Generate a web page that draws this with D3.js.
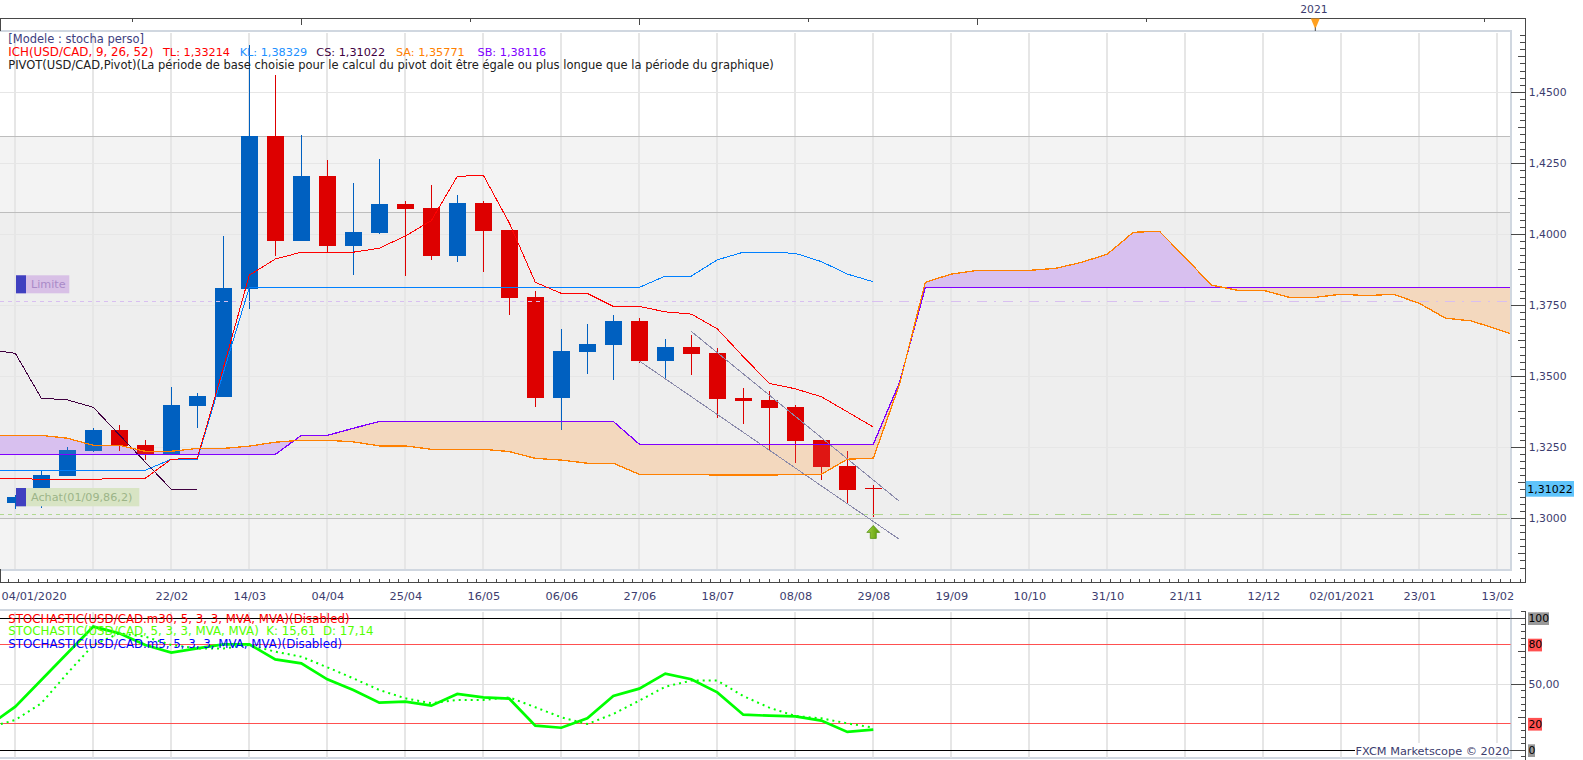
<!DOCTYPE html>
<html>
<head>
<meta charset="utf-8">
<script src="https://cdn.jsdelivr.net/npm/d3@7"></script>
<style>
  html, body { margin: 0; padding: 0; background: #fff; }
  svg { display: block; }
  text { font-family: "DejaVu Sans", sans-serif; font-size: 10.8px; white-space: pre; }
</style>
</head>
<body>
<div id="chart"></div>
<script>
// weekly candles, week 0 = first label
const opens  = [1.3054,1.3100,1.3149,1.3237,1.3311,1.3258,1.3226,1.3395,1.3427,1.3808,1.4346,1.3977,1.4205,1.3959,1.4005,1.4107,1.4093,1.3924,1.4110,1.4015,1.3779,1.3424,1.3586,1.3610,1.3695,1.3554,1.3603,1.3582,1.3424,1.3417,1.3392,1.3276,1.3184,1.3106];
const closes = [1.3075,1.3152,1.3240,1.3311,1.3256,1.3226,1.3399,1.3431,1.3811,1.4346,1.3977,1.4205,1.3959,1.4008,1.4107,1.4089,1.3924,1.4110,1.4012,1.3776,1.3424,1.3589,1.3614,1.3695,1.3554,1.3603,1.3579,1.3420,1.3413,1.3388,1.3272,1.3181,1.3100,1.31022];
const highs  = [1.3082,1.3168,1.3251,1.3318,1.3328,1.3276,1.3462,1.3441,1.3994,1.4667,1.4561,1.4350,1.4262,1.4181,1.4265,1.4117,1.4174,1.4138,1.4117,1.4015,1.3800,1.3667,1.3684,1.3716,1.3705,1.3631,1.3645,1.3600,1.3459,1.3448,1.3399,1.3276,1.3237,1.3117];
const lows   = [1.3033,1.3037,1.3149,1.3233,1.3237,1.3205,1.3226,1.3318,1.3427,1.3737,1.3924,1.3977,1.3938,1.3857,1.4001,1.3853,1.3910,1.3903,1.3867,1.3716,1.3392,1.3311,1.3508,1.3487,1.3547,1.3490,1.3505,1.3353,1.3332,1.3240,1.3195,1.3135,1.3050,1.3005];

// ichimoku, every list starts at week -1
const tenkan = [1.3141,1.3141,1.3137,1.3137,1.3137,1.3141,1.3141,1.3208,1.3211,1.3529,1.3856,1.3913,1.3937,1.3937,1.3937,1.3951,1.3994,1.4048,1.4204,1.4208,1.4040,1.3831,1.3792,1.3792,1.3746,1.3746,1.3727,1.3719,1.3667,1.3569,1.3475,1.3456,1.3428,1.3375,1.33214];
const kijun  = [1.3169,1.3169,1.3169,1.3169,1.3169,1.3169,1.3169,1.3208,1.3208,1.3512,1.3813,1.3813,1.3813,1.3813,1.3813,1.3813,1.3813,1.3813,1.3813,1.3813,1.3813,1.3813,1.3813,1.3813,1.3813,1.3813,1.3853,1.3853,1.3910,1.3937,1.3937,1.3933,1.3904,1.3860,1.38329];
const chikou = [1.3594,1.3581,1.3423,1.3417,1.3391,1.3294,1.3198,1.3102,1.31022];
const senkouA = [1.3292,1.3292,1.3292,1.3282,1.3257,1.3257,1.3236,1.3236,1.3246,1.3246,1.3254,1.3268,1.3275,1.3275,1.3269,1.3255,1.3255,1.3243,1.3243,1.3243,1.3235,1.3211,1.3205,1.3194,1.3194,1.3155,1.3155,1.3155,1.3152,1.3152,1.3152,1.3155,1.3155,1.3208,1.3212,1.3469,1.3831,1.3860,1.3873,1.3873,1.3873,1.3880,1.3901,1.3930,1.4007,1.4011,1.3918,1.3821,1.3803,1.3803,1.3778,1.3778,1.3789,1.3784,1.3789,1.3757,1.3705,1.3695,1.3666,1.3634];
const senkouB = [1.3225,1.3225,1.3225,1.3225,1.3225,1.3225,1.3225,1.3225,1.3225,1.3225,1.3225,1.3225,1.3292,1.3292,1.3317,1.3341,1.3341,1.3341,1.3341,1.3341,1.3341,1.3341,1.3341,1.3341,1.3341,1.3261,1.3261,1.3261,1.3261,1.3261,1.3261,1.3261,1.3261,1.3261,1.3261,1.3476,1.38116,1.38116,1.38116,1.38116,1.38116,1.38116,1.38116,1.38116,1.38116,1.38116,1.38116,1.38116,1.38116,1.38116,1.38116,1.38116,1.38116,1.38116,1.38116,1.38116,1.38116,1.38116,1.38116,1.38116];

// stochastic, from week -1
const stochK = [18.9,33.1,53.3,73.5,93.7,88.6,79.8,74.0,77.2,80.3,80.3,68.9,65.9,53.8,45.7,36.1,36.8,33.8,42.7,40.1,39.1,18.7,17.1,24.2,41.1,46.7,58.1,53.8,43.9,27.0,26.2,25.7,22.5,13.9,15.61];
const stochD = [17.4,23.0,35.6,58.3,79.8,88.6,86.1,79.8,77.2,77.2,79.8,74.7,70.9,62.9,54.5,45.7,39.4,35.6,38.1,38.1,40.1,32.6,25.0,19.9,27.5,37.6,48.2,52.8,52.8,41.1,32.3,26.0,24.2,20.4,17.14];

// channel lines [week, price]
const channelLow = [[24, 1.3554], [34, 1.2926]];
const channelHigh = [[26, 1.3658], [34, 1.3060]];

const pivotLevels = [1.4345, 1.4077, 1.3000];
const limitPrice = 1.3764;
const buyPrice = 1.3014;
const lastClose = 1.31022;
const arrowPrice = 1.2975;

const priceTicks = [1.45, 1.425, 1.40, 1.375, 1.35, 1.325, 1.30];
const weekTicks = [0,3,6,9,12,15,18,21,24,27,30,33,36,39,42,45,48,51,54,57];
const weekLabels = ['04/01/2020','','22/02','14/03','04/04','25/04','16/05','06/06','27/06','18/07','08/08','29/08','19/09','10/10','31/10','21/11','12/12','02/01/2021','23/01','13/02'];
const topTicks = [4.5,11,17.5,24,30.5,37,43.5,50,56.5];

const W = 1583, H = 760;
const right = 1510.6, axisX = 1525.3;
const topY0 = 31, topY1 = 569.5, axisY = 582.3, frameY = 18.5;
const lowY0 = 609.5, lowY1 = 757.5;

const x = d3.scaleLinear().domain([0, 57]).range([15.3, 1497.3]);
const y = d3.scaleLinear().domain([1.30, 1.45]).range([518.3, 92.3]);
const ys = d3.scaleLinear().domain([0, 100]).range([750.3, 618.3]);
const fmt = d => d3.format('.4f')(d).replace('.', ',');

const labelColor = '#3c3c6e', inkColor = '#484848', gridColor = '#e6e6e6';
const blue = '#0060c0', red = '#dd0000';

const svg = d3.select('#chart').append('svg').attr('width', W).attr('height', H);
const defs = svg.append('defs');
defs.append('clipPath').attr('id', 'plot').append('rect')
  .attr('x', 0).attr('y', topY0).attr('width', right).attr('height', topY1 - topY0);
defs.append('clipPath').attr('id', 'low').append('rect')
  .attr('x', 0).attr('y', lowY0).attr('width', right).attr('height', lowY1 - lowY0);
const arrowFill = defs.append('linearGradient').attr('id', 'arrowFill')
  .attr('x1', 0).attr('x2', 1).attr('y1', 0).attr('y2', 0);
arrowFill.append('stop').attr('offset', '0%').attr('stop-color', '#a0d040');
arrowFill.append('stop').attr('offset', '100%').attr('stop-color', '#5a9a08');

// pivot bands
svg.append('rect').attr('x', 0).attr('width', right)
  .attr('y', y(pivotLevels[0])).attr('height', y(pivotLevels[1]) - y(pivotLevels[0])).attr('fill', '#f3f3f3');
svg.append('rect').attr('x', 0).attr('width', right)
  .attr('y', y(pivotLevels[1])).attr('height', y(pivotLevels[2]) - y(pivotLevels[1])).attr('fill', '#eeeeee');
svg.append('rect').attr('x', 0).attr('width', right)
  .attr('y', y(pivotLevels[2])).attr('height', topY1 - y(pivotLevels[2])).attr('fill', '#f3f3f3');

// grid
const grid = svg.append('g').attr('shape-rendering', 'crispEdges');
grid.selectAll('.gx').data(weekTicks).join('line')
  .attr('x1', d => x(d)).attr('x2', d => x(d)).attr('y1', topY0 + 2).attr('y2', topY1)
  .attr('stroke', gridColor).attr('stroke-width', 2);
grid.selectAll('.gy').data(priceTicks).join('line')
  .attr('x1', 0).attr('x2', right).attr('y1', d => y(d)).attr('y2', d => y(d))
  .attr('stroke', gridColor).attr('stroke-width', 1.2);
grid.selectAll('.gp').data(pivotLevels).join('line')
  .attr('x1', 0).attr('x2', right).attr('y1', d => y(d)).attr('y2', d => y(d))
  .attr('stroke', '#bdbdbd').attr('stroke-width', 1.2);

const chart = svg.append('g').attr('clip-path', 'url(#plot)');

// cloud: purple above senkou B, peach below
const idx = senkouA.map((d, i) => i - 1);
const cloud = d3.area().x(i => x(i)).y0(i => y(senkouB[i + 1])).y1(i => y(senkouA[i + 1]));
const aboveB = d3.area().x(i => x(i)).y0(0).y1(i => y(senkouB[i + 1]));
const belowB = d3.area().x(i => x(i)).y0(H).y1(i => y(senkouB[i + 1]));
defs.append('clipPath').attr('id', 'aboveB').append('path').attr('d', aboveB(idx));
defs.append('clipPath').attr('id', 'belowB').append('path').attr('d', belowB(idx));
function drawCloud(opacity) {
  chart.append('path').attr('d', cloud(idx)).attr('clip-path', 'url(#aboveB)')
    .attr('fill', '#d8c0f0').attr('fill-opacity', opacity);
  chart.append('path').attr('d', cloud(idx)).attr('clip-path', 'url(#belowB)')
    .attr('fill', '#f3d8bf').attr('fill-opacity', opacity);
}
drawCloud(1);

// candles
const candles = chart.append('g').attr('shape-rendering', 'crispEdges');
opens.forEach((o, i) => {
  const c = closes[i], col = c >= o ? blue : red, px = Math.floor(x(i));
  candles.append('rect').attr('x', px).attr('width', 1)
    .attr('y', y(highs[i])).attr('height', y(lows[i]) - y(highs[i])).attr('fill', col);
  const t = y(Math.max(o, c)), b = y(Math.min(o, c));
  candles.append('rect').attr('x', px - 8).attr('width', 17)
    .attr('y', t).attr('height', Math.max(1, b - t)).attr('fill', col);
});
drawCloud(0.1);

// limit and buy levels
function levelLine(price, color) {
  chart.append('line').attr('x1', 0).attr('x2', x(33)).attr('y1', y(price)).attr('y2', y(price))
    .attr('stroke', color).attr('stroke-width', 1).attr('stroke-dasharray', '4,4').attr('shape-rendering', 'crispEdges');
  chart.append('line').attr('x1', x(33)).attr('x2', right).attr('y1', y(price)).attr('y2', y(price))
    .attr('stroke', color).attr('stroke-width', 1).attr('stroke-dasharray', '10,7,2,7').attr('shape-rendering', 'crispEdges');
}
levelLine(limitPrice, '#d8bff0');
levelLine(buyPrice, '#b0d890');

// indicator lines
const line = d3.line().x(d => x(d[0])).y(d => y(d[1]));
const withWeek = arr => arr.map((v, i) => [i - 1, v]);
function drawLine(data, color, width) {
  chart.append('path').attr('d', line(data)).attr('fill', 'none')
    .attr('stroke', color).attr('stroke-width', width).attr('shape-rendering', 'crispEdges');
}
drawLine(channelLow, '#8a8aaa', 1);
drawLine(channelHigh, '#8a8aaa', 1);
drawLine(withWeek(chikou), '#400040', 1);
drawLine(withWeek(kijun), '#0080ff', 1);
drawLine(withWeek(tenkan), '#ff0000', 1);
drawLine(withWeek(senkouB), '#8000ff', 1.3);
drawLine(withWeek(senkouA), '#ff8000', 1.3);

// buy arrow
chart.append('path')
  .attr('transform', `translate(${x(33)},${y(arrowPrice)})`)
  .attr('d', 'M0,0 L6.5,7 L3,7 L3,13 L-3,13 L-3,7 L-6.5,7 Z')
  .attr('fill', 'url(#arrowFill)').attr('stroke', '#4a8a08').attr('stroke-width', 0.7);

// order tags
function tag(x0, y0, w, h, txt, bg, fg) {
  svg.append('rect').attr('x', x0).attr('y', y0).attr('width', w).attr('height', h).attr('fill', bg);
  svg.append('rect').attr('x', x0).attr('y', y0).attr('width', 10).attr('height', h).attr('fill', '#4040c0');
  svg.append('text').attr('x', x0 + 15).attr('y', y0 + h / 2).attr('dy', '.35em').attr('fill', fg)
    .style('font-size', '11.2px').text(txt);
}
tag(16, 275.3, 53.3, 18, 'Limite', '#d8c0e6', '#a98ac8');
tag(16, 488, 123.3, 18.3, 'Achat(01/09,86,2)', '#d8e4c4', '#9cb488');

// plot frame
const frame = svg.append('g').attr('fill', 'none').attr('stroke', '#d0d7e0').attr('stroke-width', 2).attr('shape-rendering', 'crispEdges');
frame.append('path').attr('d', d3.line()([[0, topY0], [right, topY0], [right, topY1], [0, topY1]]));
frame.append('path').attr('d', d3.line()([[0, lowY0], [right, lowY0], [right, lowY1], [0, lowY1]]));

// top strip
const ink = svg.append('g').attr('stroke', inkColor).attr('shape-rendering', 'crispEdges').attr('fill', 'none');
ink.append('path').attr('d', d3.line()([[0.5, topY0], [0.5, frameY], [axisX, frameY], [axisX, axisY], [0, axisY], [0.5, topY1]]));
ink.selectAll('.tt').data(topTicks).join('line')
  .attr('x1', d => x(d)).attr('x2', d => x(d)).attr('y1', frameY)
  .attr('y2', d => frameY + (d % 1 === 0 ? 6 : 3));
svg.append('path').attr('transform', `translate(${x(50)},${frameY})`)
  .attr('d', 'M-4.5,0 L4.5,0 L0.5,9.5 L-0.5,9.5 Z').attr('fill', '#ffa020');
svg.append('line').attr('x1', x(50)).attr('x2', x(50)).attr('y1', frameY + 9).attr('y2', topY0).attr('stroke', inkColor);
svg.append('text').attr('x', 1314).attr('y', 9).attr('dy', '.35em').attr('text-anchor', 'middle').attr('fill', labelColor).text('2021');

// x axis
const xMinor = d3.range(-1.5 / 1.5, 59.3, 0.375);
ink.selectAll('.tx').data(xMinor).join('line')
  .attr('x1', d => x(d)).attr('x2', d => x(d)).attr('y2', axisY)
  .attr('y1', d => axisY - (d % 3 === 0 ? 13 : d % 0.75 === 0 ? 6.5 : 3.5))
  .attr('display', d => x(d) < axisX ? null : 'none');
const xAxis = d3.axisBottom(x).tickValues(weekTicks).tickSize(0).tickPadding(0)
  .tickFormat((d, i) => weekLabels[i]);
const gx = svg.append('g').attr('transform', `translate(0,${axisY})`).call(xAxis);
gx.select('.domain').remove();
gx.selectAll('text').attr('y', 13.7).attr('dy', '.35em').attr('fill', labelColor)
  .style('font-family', '"DejaVu Sans", sans-serif').style('font-size', '11.3px')
  .filter((d, i) => i === 0).attr('x', 1 - x(0)).attr('text-anchor', 'start');

// price axis
const yMinor = d3.range(1.2825, 1.4701, 0.0025);
ink.selectAll('.ty').data(yMinor).join('line')
  .attr('y1', d => y(d)).attr('y2', d => y(d)).attr('x2', axisX)
  .attr('x1', d => {
    const n = Math.round(d / 0.0025);
    return n % 10 === 0 ? right : n % 5 === 0 ? axisX - 7.5 : axisX - 5;
  });
const yAxis = d3.axisRight(y).tickValues(priceTicks).tickSize(0).tickPadding(0).tickFormat(fmt);
const gy = svg.append('g').attr('transform', `translate(${axisX + 3.5},0)`).call(yAxis);
gy.select('.domain').remove();
gy.selectAll('text').attr('x', 0).attr('fill', labelColor)
  .style('font-family', '"DejaVu Sans", sans-serif').style('font-size', '10.8px');

svg.append('rect').attr('x', axisX + 0.4).attr('y', 481).attr('width', 48.3).attr('height', 15.7).attr('fill', '#5fc4fb');
svg.append('text').attr('x', axisX + 2).attr('y', y(lastClose)).attr('dy', '.35em').attr('fill', '#000')
  .style('font-size', '11px').text(d3.format('.5f')(lastClose).replace('.', ','));

// legend
function legendLine(yy, size, parts) {
  parts.forEach(p => svg.append('text').attr('x', p[0]).attr('y', yy).attr('dy', '.35em').attr('fill', p[2])
    .style('font-size', size + 'px').text(p[1]));
}
legendLine(39, 11.5, [[8.3, '[Modele : stocha perso]', '#404080']]);
legendLine(52, 11.85, [[8.3, 'ICH(USD/CAD, 9, 26, 52)', '#ff0000']]);
legendLine(52, 11.25, [
  [163, 'TL: 1,33214', '#ff0000'],
  [239.7, 'KL: 1,38329', '#2090ff'],
  [316.3, 'CS: 1,31022', '#400040'],
  [396, 'SA: 1,35771', '#ff8000'],
  [477.5, 'SB: 1,38116', '#8000ff']
]);
legendLine(65, 11.5, [[8.3, 'PIVOT(USD/CAD,Pivot)(La période de base choisie pour le calcul du pivot doit être égale ou plus longue que la période du graphique)', '#202020']]);

// stochastic panel
const low = svg.append('g').attr('clip-path', 'url(#low)');
low.append('g').attr('shape-rendering', 'crispEdges').selectAll('line').data(weekTicks).join('line')
  .attr('x1', d => x(d)).attr('x2', d => x(d)).attr('y1', lowY0 + 2).attr('y2', lowY1)
  .attr('stroke', gridColor).attr('stroke-width', 2);

const stochLevels = [[100, '#000000'], [80, '#ff5050'], [50, '#e0e0e0'], [20, '#ff5050'], [0, '#000000']];
low.append('g').attr('shape-rendering', 'crispEdges').selectAll('line').data(stochLevels).join('line')
  .attr('x1', 0).attr('x2', right).attr('y1', d => ys(d[0])).attr('y2', d => ys(d[0]))
  .attr('stroke', d => d[1]).attr('stroke-width', 1);

const sline = d3.line().x(d => x(d[0])).y(d => ys(d[1]));
low.append('path').attr('d', sline(withWeek(stochD))).attr('fill', 'none')
  .attr('stroke', '#00ff00').attr('stroke-width', 2).attr('stroke-dasharray', '2,4');
low.append('path').attr('d', sline(withWeek(stochK))).attr('fill', 'none')
  .attr('stroke', '#00ff00').attr('stroke-width', 2.7);

legendLine(618.5, 11.8, [[8.3, 'STOCHASTIC(USD/CAD.m30, 5, 3, 3, MVA, MVA)(Disabled)', '#ff0000']]);
legendLine(631, 11.8, [[8.3, 'STOCHASTIC(USD/CAD, 5, 3, 3, MVA, MVA)  K: 15,61  D: 17,14', '#55ff00']]);
legendLine(644, 11.8, [[8.3, 'STOCHASTIC(USD/CAD.m5, 5, 3, 3, MVA, MVA)(Disabled)', '#0000ff']]);

// copyright sits on a white patch
svg.append('rect').attr('x', 1355).attr('y', 743).attr('width', right - 1356).attr('height', 13).attr('fill', '#fff');
svg.append('text').attr('x', 1355.5).attr('y', 751).attr('dy', '.35em').attr('fill', labelColor)
  .style('font-size', '11.3px').text('FXCM Marketscope © 2020');

// stochastic axis
ink.append('line').attr('x1', axisX).attr('x2', axisX).attr('y1', 611).attr('y2', H);
ink.selectAll('.ts').data(d3.range(-5, 106, 5)).join('line')
  .attr('y1', d => ys(d)).attr('y2', d => ys(d)).attr('x2', axisX)
  .attr('x1', d => d % 50 === 0 ? right : d % 25 === 0 ? axisX - 7 : axisX - 4);

const stochLabels = [[100, '100', '#999999', 21], [80, '80', '#ff5050', 14], [50, '50,00', null, 0], [20, '20', '#ff5050', 14], [0, '0', '#999999', 7]];
stochLabels.forEach(d => {
  if (d[2]) {
    svg.append('rect').attr('x', 1528).attr('y', ys(d[0]) - 6).attr('width', d[3]).attr('height', 12.7).attr('fill', d[2]);
  }
  svg.append('text').attr('x', 1528.5).attr('y', ys(d[0])).attr('dy', '.35em')
    .attr('fill', d[2] ? '#000' : labelColor).text(d[1]);
});
</script>
</body>
</html>
